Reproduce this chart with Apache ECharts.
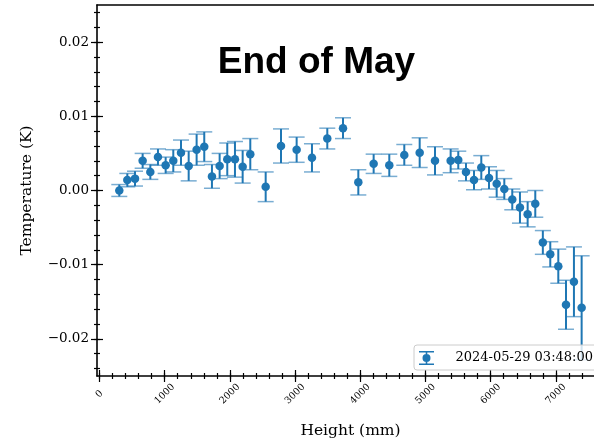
<!DOCTYPE html>
<html>
<head>
<meta charset="utf-8">
<script src="https://cdn.jsdelivr.net/npm/echarts@6/dist/echarts.min.js"></script>
<style>
  html, body { margin: 0; padding: 0; background: #fff; }
  #chart { width: 594px; height: 442px; }
</style>
</head>
<body>
<div id="chart"></div>
<script>
// measurement heights (mm), mean temperature offsets (K) and their error bars
const heights = [304, 427, 545, 662, 780, 897, 1015, 1132, 1250, 1368, 1490, 1607, 1725, 1843, 1960, 2078,
  2196, 2313, 2549, 2784, 3024, 3259, 3494, 3735, 3970, 4205, 4445, 4675, 4911, 5146, 5386, 5503,
  5621, 5744, 5856, 5974, 6092, 6209, 6331, 6449, 6567, 6684, 6800, 6914, 7037, 7155, 7277, 7395];
const temps = [0.0000, 0.0014, 0.0016, 0.0040, 0.0025, 0.0045, 0.0034, 0.0040, 0.0051, 0.0033, 0.0055, 0.0059,
  0.0019, 0.0033, 0.0042, 0.0042, 0.0032, 0.0049, 0.0005, 0.0060, 0.0055, 0.0044, 0.0070, 0.0084,
  0.0011, 0.0036, 0.0034, 0.0048, 0.0051, 0.0040, 0.0040, 0.0041, 0.0025, 0.0014, 0.0031, 0.0017,
  0.0009, 0.0002, -0.0012, -0.0023, -0.0032, -0.0018, -0.0070, -0.0086, -0.0102, -0.0154, -0.0123, -0.0158];
const errors = [0.0008, 0.0009, 0.0010, 0.0010, 0.0010, 0.0011, 0.0011, 0.0015, 0.0017, 0.0020, 0.0021, 0.0020,
  0.0016, 0.0017, 0.0022, 0.0024, 0.0022, 0.0021, 0.0020, 0.0023, 0.0017, 0.0019, 0.0014, 0.0014,
  0.0017, 0.0013, 0.0015, 0.0014, 0.0020, 0.0019, 0.0016, 0.0012, 0.0012, 0.0013, 0.0016, 0.0015,
  0.0018, 0.0014, 0.0014, 0.0021, 0.0017, 0.0018, 0.0016, 0.0017, 0.0023, 0.0033, 0.0047, 0.0070];

const xTicks = [0, 1000, 2000, 3000, 4000, 5000, 6000, 7000];
const xTickLabels = ['0', '1000', '2000', '3000', '4000', '5000', '6000', '7000'];
const yTicks = [-0.02, -0.01, 0, 0.01, 0.02];
const yTickLabels = ['\u22120.02', '\u22120.01', '0.00', '0.01', '0.02'];
const legendLabel = '2024-05-29 03:48:00';

const xMinor = [];
for (let v = 0; v <= 7600; v += 200) xMinor.push(v);
const yMinor = [];
for (let k = -12; k <= 12; k++) yMinor.push(+(k * 0.002).toFixed(3));

const blue = '#1f77b4';
const serif = 'DejaVu Serif';
const X_MIN = -38, X_MAX = 7738, Y_MIN = -0.025, Y_MAX = 0.025;

const chart = echarts.init(document.getElementById('chart'));

function xAxisBase(extra) {
  return Object.assign({
    type: 'value', min: X_MIN, max: X_MAX, position: 'bottom',
    splitLine: { show: false },
    axisLine: { show: false, onZero: false },
    axisLabel: { show: false },
    axisTick: { show: false }
  }, extra);
}
function yAxisBase(extra) {
  return Object.assign({
    type: 'value', min: Y_MIN, max: Y_MAX, position: 'left',
    splitLine: { show: false },
    axisLine: { show: false, onZero: false },
    axisLabel: { show: false },
    axisTick: { show: false }
  }, extra);
}
const tickLine = { color: '#000', width: 1.2 };

chart.setOption({
  backgroundColor: '#fff',
  animation: false,
  grid: { left: 97, top: 5, right: -10, bottom: 66, outerBoundsMode: 'none' },
  graphic: [{
    type: 'text', x: 316.5, y: 63,
    style: {
      text: 'End of May', fill: '#000',
      fontFamily: 'Liberation Sans', fontWeight: 'bold', fontSize: 37,
      align: 'center', verticalAlign: 'middle'
    }
  }],
  legend: {
    left: 414, top: 345,
    padding: [6, 8, 5, 5],
    orient: 'horizontal',
    itemWidth: 26, itemHeight: 14,
    backgroundColor: 'rgba(255,255,255,0.8)',
    borderColor: '#cccccc', borderWidth: 1, borderRadius: 3,
    textStyle: { fontFamily: serif, fontSize: 13, color: '#000', padding: [0, 0, 0, 11] },
    data: [{
      name: legendLabel,
      icon: 'path://M0 0H15V1.4H0Z M0 12.6H15V14H0Z M6.7 0H8.3V14H6.7Z M11.5 7A4 4 0 1 1 3.5 7A4 4 0 1 1 11.5 7Z'
    }]
  },
  xAxis: [
    xAxisBase({
      name: 'Height (mm)', nameLocation: 'middle', nameGap: 47, nameMoveOverlap: false,
      nameTextStyle: { fontFamily: serif, fontSize: 15.5, color: '#000' },
      axisLine: { show: true, onZero: false, lineStyle: { color: '#000', width: 1.6 } },
      axisTick: { show: true, inside: false, length: 6, customValues: xTicks, lineStyle: tickLine },
      axisLabel: {
        show: true, customValues: xTicks, rotate: 45, margin: 18,
        align: 'center', verticalAlign: 'middle',
        fontFamily: serif, fontSize: 9.5, color: '#000',
        formatter: v => xTickLabels[xTicks.indexOf(v)]
      }
    }),
    xAxisBase({ axisTick: { show: true, inside: true, length: 6, customValues: xTicks, lineStyle: tickLine } }),
    xAxisBase({ axisTick: { show: true, inside: false, length: 3, customValues: xMinor, lineStyle: tickLine } }),
    xAxisBase({ axisTick: { show: true, inside: true, length: 3, customValues: xMinor, lineStyle: tickLine } }),
    xAxisBase({ position: 'top', axisLine: { show: true, onZero: false, lineStyle: { color: '#000', width: 1.6 } } })
  ],
  yAxis: [
    yAxisBase({
      name: 'Temperature (K)', nameLocation: 'middle', nameGap: 62, nameMoveOverlap: false,
      nameTextStyle: { fontFamily: serif, fontSize: 15.5, color: '#000' },
      axisLine: { show: true, onZero: false, lineStyle: { color: '#000', width: 1.6 } },
      axisTick: { show: true, inside: false, length: 6, customValues: yTicks, lineStyle: tickLine },
      axisLabel: {
        show: true, customValues: yTicks, margin: 8,
        fontFamily: serif, fontSize: 13.5, color: '#000',
        formatter: v => yTickLabels[yTicks.findIndex(t => Math.abs(t - v) < 1e-9)]
      }
    }),
    yAxisBase({ axisTick: { show: true, inside: true, length: 6, customValues: yTicks, lineStyle: tickLine } }),
    yAxisBase({ axisTick: { show: true, inside: false, length: 3, customValues: yMinor, lineStyle: tickLine } }),
    yAxisBase({ axisTick: { show: true, inside: true, length: 3, customValues: yMinor, lineStyle: tickLine } })
  ],
  series: [
    {
      type: 'custom',
      xAxisIndex: 0, yAxisIndex: 0,
      encode: { x: 0, y: 1 },
      silent: true,
      data: heights.map((h, i) => [h, temps[i], errors[i]]),
      renderItem: (params, api) => {
        const x = api.value(0), y = api.value(1), e = api.value(2);
        const top = api.coord([x, y + e]);
        const bot = api.coord([x, y - e]);
        const cw = 8;
        return {
          type: 'group',
          children: [
            { type: 'line', shape: { x1: top[0], y1: top[1], x2: bot[0], y2: bot[1] },
              style: { stroke: blue, lineWidth: 2 } },
            { type: 'line', shape: { x1: top[0] - cw, y1: top[1], x2: top[0] + cw, y2: top[1] },
              style: { stroke: blue, lineWidth: 1.5, opacity: 0.6 } },
            { type: 'line', shape: { x1: bot[0] - cw, y1: bot[1], x2: bot[0] + cw, y2: bot[1] },
              style: { stroke: blue, lineWidth: 1.5, opacity: 0.6 } }
          ]
        };
      }
    },
    {
      name: legendLabel,
      type: 'scatter',
      xAxisIndex: 0, yAxisIndex: 0,
      symbol: 'circle', symbolSize: 8.5,
      itemStyle: { color: blue, opacity: 1 },
      data: heights.map((h, i) => [h, temps[i]])
    }
  ]
});
</script>
</body>
</html>
